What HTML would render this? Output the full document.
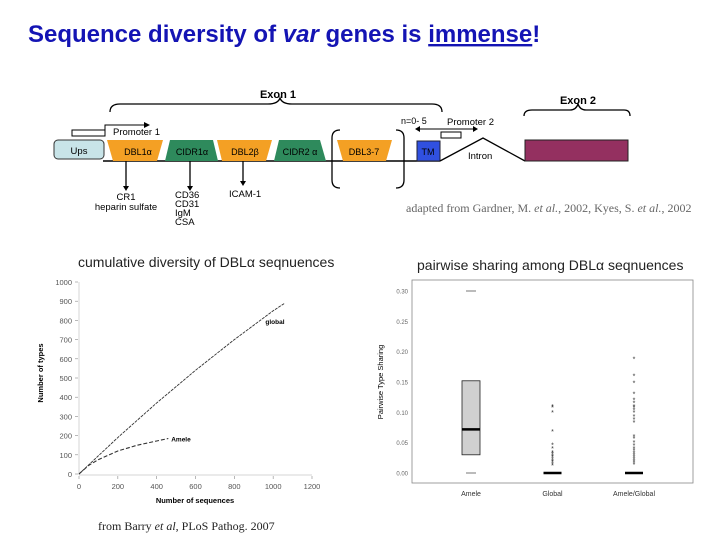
<!DOCTYPE html>
<html><head><meta charset="utf-8"><style>
html,body{margin:0;padding:0;background:#fff;}
svg{display:block;font-family:"Liberation Sans",sans-serif;}
</style></head><body>
<svg width="720" height="540" viewBox="0 0 720 540" xmlns="http://www.w3.org/2000/svg">
<text x="28" y="42" font-size="24" font-weight="bold" fill="#1414b4">Sequence diversity of <tspan font-style="italic">var</tspan> genes is <tspan text-decoration="underline">immense</tspan>!</text>

<g font-size="9.5" fill="#000">
  <text x="278" y="98" font-size="11" font-weight="bold" text-anchor="middle">Exon 1</text>
  <path d="M110,112 Q110,104 120,104 L268,104 Q278,104 280,98 Q282,104 292,104 L432,104 Q442,104 442,112" fill="none" stroke="#000" stroke-width="1.3"/>
  <text x="578" y="104" font-size="11" font-weight="bold" text-anchor="middle">Exon 2</text>
  <path d="M524,116 Q524,110 532,110 L570,110 Q576,110 578,104 Q580,110 586,110 L624,110 Q630,110 630,116" fill="none" stroke="#000" stroke-width="1.3"/>
  <rect x="72" y="130" width="33" height="6" fill="#fff" stroke="#000"/>
  <path d="M105,133 L105,125 L147,125" fill="none" stroke="#000"/>
  <path d="M144,122 L150,125 L144,128Z"/>
  <text x="113" y="135">Promoter 1</text>
  <line x1="103" y1="161" x2="440" y2="161" stroke="#000" stroke-width="1.5"/>
  <rect x="54" y="140" width="50" height="19" rx="4" fill="#c8e4e8" stroke="#333"/>
  <text x="79" y="154" text-anchor="middle">Ups</text>
  <polygon points="107,140 163,140 157,161 113,161" fill="#f4a024"/>
  <text x="138" y="155" text-anchor="middle" font-size="9">DBL1α</text>
  <polygon points="170,140 213,140 218,161 165,161" fill="#2e8a5c"/>
  <text x="192" y="155" text-anchor="middle" font-size="9">CIDR1α</text>
  <polygon points="217,140 272,140 266,161 222,161" fill="#f4a024"/>
  <text x="245" y="155" text-anchor="middle" font-size="9">DBL2β</text>
  <polygon points="279,140 320,140 326,161 274,161" fill="#2e8a5c"/>
  <text x="300" y="155" text-anchor="middle" font-size="9">CIDR2 α</text>
  <path d="M340,130 Q332,130 332,138 L332,180 Q332,188 340,188" fill="none" stroke="#000" stroke-width="1.3"/>
  <path d="M396,130 Q404,130 404,138 L404,180 Q404,188 396,188" fill="none" stroke="#000" stroke-width="1.3"/>
  <polygon points="337,140 392,140 386,161 343,161" fill="#f4a024"/>
  <text x="364" y="155" text-anchor="middle" font-size="9">DBL3-7</text>
  <text x="401" y="124" font-size="9">n=0- 5</text>
  <text x="447" y="125">Promoter 2</text>
  <line x1="418" y1="129" x2="475" y2="129" stroke="#000"/>
  <path d="M420,126 L415,129 L420,132Z M473,126 L478,129 L473,132Z"/>
  <rect x="441" y="132" width="20" height="6" fill="#fff" stroke="#000"/>
  <rect x="417" y="141" width="23" height="20" fill="#3050e0" stroke="#223"/>
  <text x="428" y="155" text-anchor="middle" font-size="9">TM</text>
  <path d="M440,161 L483,138 L525,161" fill="none" stroke="#000" stroke-width="1.3"/>
  <text x="468" y="159" font-size="9.5">Intron</text>
  <rect x="525" y="140" width="103" height="21" fill="#943060" stroke="#222"/>
  <g stroke="#000" stroke-width="1.3">
    <line x1="126" y1="161" x2="126" y2="188"/><line x1="190" y1="161" x2="190" y2="188"/><line x1="243" y1="161" x2="243" y2="183"/>
  </g>
  <path d="M123,186 L126,191 L129,186Z M187,186 L190,191 L193,186Z M240,181 L243,186 L246,181Z"/>
  <text x="126" y="200" text-anchor="middle">CR1</text>
  <text x="126" y="210" text-anchor="middle">heparin sulfate</text>
  <text x="175" y="198">CD36</text><text x="175" y="207">CD31</text><text x="175" y="216">IgM</text><text x="175" y="225">CSA</text>
  <text x="229" y="197">ICAM-1</text>
</g>
<text x="406" y="212" font-family="Liberation Serif,serif" font-size="12" fill="#666">adapted from Gardner, M. <tspan font-style="italic">et al.</tspan>, 2002, Kyes, S. <tspan font-style="italic">et al.</tspan>, 2002</text>

<text x="78" y="267" font-size="14" fill="#222">cumulative diversity of DBLα seqnuences</text>
<text x="417" y="270" font-size="14" fill="#222">pairwise sharing among DBLα seqnuences</text>
<text x="98" y="530" font-family="Liberation Serif,serif" font-size="12" fill="#222">from Barry <tspan font-style="italic">et al</tspan>, PLoS Pathog. 2007</text>

<g id="left"></g>
<g id="right"></g>
</svg>
<script>
const NS="http://www.w3.org/2000/svg";
// left chart data
const xTicks=[0,200,400,600,800,1000,1200];
const yTicks=[0,100,200,300,400,500,600,700,800,900,1000];
const globalX=[0,200,400,600,800,1000,1060];
const globalY=[0,190,370,540,700,850,890];
const ameleX=[0,50,100,200,300,400,460];
const ameleY=[0,45,75,120,150,172,185];
// right chart data
const cats=["Amele","Global","Amele/Global"];
const boxQ1=[0.03,0,0];
const boxMed=[0.072,0,0];
const boxQ3=[0.152,0,0];
const whiskLo=[0,0,0];
const whiskHi=[0.30,0,0];
const sharingTicks=[0,0.05,0.10,0.15,0.20,0.25,0.30];
const globalOut=[0.012,0.015,0.018,0.02,0.023,0.026,0.028,0.031,0.034,0.04,0.046,0.068,0.1,0.108,0.11];
const agOut=[0.014,0.017,0.02,0.023,0.026,0.03,0.033,0.037,0.04,0.045,0.05,0.057,0.06,0.083,0.088,0.093,0.1,0.104,0.108,0.11,0.115,0.12,0.13,0.148,0.16,0.188];

function mk(p,tag,attrs,txt){const e=document.createElementNS(NS,tag);for(const k in attrs)e.setAttribute(k,attrs[k]);if(txt!==undefined)e.textContent=txt;p.appendChild(e);return e;}
const L=document.getElementById('left');
const lx=v=>79+v*(233/1200), ly=v=>474-v*0.192;
for(const t of yTicks){
  const tk=mk(L,'text',{x:72,y:ly(t)+3,'font-size':7.5,'text-anchor':'end',fill:'#555'},String(t));
  
  
  mk(L,'line',{x1:75,x2:78,y1:ly(t),y2:ly(t),stroke:'#888','stroke-width':0.6});
}
for(const t of xTicks){
  const tk=mk(L,'text',{x:lx(t),y:489,'font-size':7.5,'text-anchor':'middle',fill:'#555'},String(t));
  
  
  mk(L,'line',{x1:lx(t),x2:lx(t),y1:476,y2:479,stroke:'#888','stroke-width':0.6});
}
mk(L,'line',{x1:79,x2:79,y1:ly(1000),y2:475,stroke:'#aaa','stroke-width':0.5});
mk(L,'line',{x1:79,x2:lx(1200),y1:475,y2:475,stroke:'#aaa','stroke-width':0.5});
let a=mk(L,'text',{x:195,y:503,'font-size':7.5,'font-weight':'bold','text-anchor':'middle'},'Number of sequences');

a=mk(L,'text',{x:0,y:0,'font-size':7.5,'font-weight':'bold','text-anchor':'middle',transform:'translate(43,373) rotate(-90)'},'Number of types');

let gl=mk(L,'polyline',{points:globalX.map((x,i)=>lx(x)+','+ly(globalY[i])).join(' '),fill:'none',stroke:'#333','stroke-width':0.9,'stroke-dasharray':'3,1'});

let al=mk(L,'polyline',{points:ameleX.map((x,i)=>lx(x)+','+ly(ameleY[i])).join(' '),fill:'none',stroke:'#333','stroke-width':1.1,'stroke-dasharray':'4,2'});

a=mk(L,'text',{x:lx(960),y:ly(780),'font-size':6.5,'font-weight':'bold'},'global');

a=mk(L,'text',{x:lx(475),y:ly(185)+3,'font-size':6.5,'font-weight':'bold'},'Amele');


const R=document.getElementById('right');
const ry=v=>473-v*(182/0.30);
const cx=i=>471+i*81.5;
mk(R,'rect',{x:412,y:280,width:281,height:203,fill:'none',stroke:'#888','stroke-width':0.8});
for(const t of sharingTicks){
  const tk=mk(R,'text',{x:408,y:ry(t)+2.5,'font-size':6,'text-anchor':'end',fill:'#666'},t.toFixed(2));
  
  
}
a=mk(R,'text',{x:0,y:0,'font-size':7.5,'text-anchor':'middle',transform:'translate(383,382) rotate(-90)'},'Pairwise Type Sharing');

cats.forEach((c,i)=>{
  const t=mk(R,'text',{x:cx(i),y:496,'font-size':7,'text-anchor':'middle',fill:'#333'},c);
  
  
  const g=mk(R,'g',{});
  
  
  if(boxQ3[i]>boxQ1[i]){
    mk(g,'rect',{x:cx(i)-9,y:ry(boxQ3[i]),width:18,height:ry(boxQ1[i])-ry(boxQ3[i]),fill:'#d0d0d0',stroke:'#222','stroke-width':0.8});
  }
  mk(g,'line',{x1:cx(i)-5,x2:cx(i)+5,y1:ry(whiskHi[i]),y2:ry(whiskHi[i]),stroke:'#555','stroke-width':0.8});
  mk(g,'line',{x1:cx(i)-5,x2:cx(i)+5,y1:ry(whiskLo[i]),y2:ry(whiskLo[i]),stroke:'#555','stroke-width':0.8});
  mk(g,'line',{x1:cx(i)-9,x2:cx(i)+9,y1:ry(boxMed[i]),y2:ry(boxMed[i]),stroke:'#000','stroke-width':2.5});
});
[[1,globalOut],[2,agOut]].forEach(([i,arr])=>{
  arr.forEach(v=>{
    const p=mk(R,'text',{x:cx(i),y:ry(v)+2.5,'font-size':7,'text-anchor':'middle',fill:'#333'},'*');
    
    
  });
});
</script>
</body></html>
